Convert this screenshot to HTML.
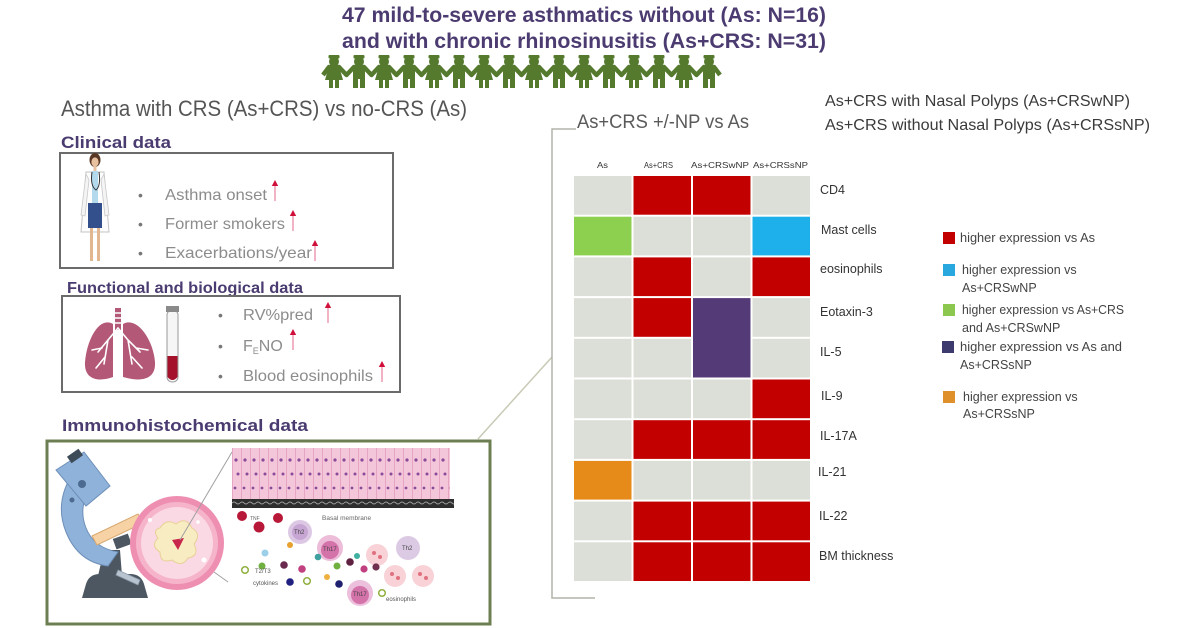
<!DOCTYPE html>
<html><head><meta charset="utf-8">
<style>
html,body{margin:0;padding:0;background:#fff;}
svg{display:block;}
text{font-family:"Liberation Sans",Arial,sans-serif;}
</style></head>
<body>
<svg width="1200" height="628" viewBox="0 0 1200 628" xmlns="http://www.w3.org/2000/svg">
<defs>
 <g id="fem" fill="#557a2e">
   <rect x="-5.5" y="0" width="11" height="3.5" rx="1"/>
   <circle cx="0" cy="6.5" r="5"/>
   <path d="M-5 11 L5 11 L9 25 L-9 25Z"/>
   <rect x="-5" y="24" width="4" height="9"/>
   <rect x="1" y="24" width="4" height="9"/>
 </g>
 <g id="mal" fill="#557a2e">
   <rect x="-5.5" y="0" width="11" height="3.5" rx="1"/>
   <circle cx="0" cy="6.5" r="5"/>
   <rect x="-6" y="11" width="12" height="13" rx="1.5"/>
   <rect x="-6" y="23" width="5" height="10"/>
   <rect x="1" y="23" width="5" height="10"/>
 </g>
 <g id="arr">
   <polygon points="0,0 -3.2,6 3.2,6" fill="#d0103a"/>
   <rect x="-1" y="6" width="2" height="15" fill="#f2b4c4"/>
 </g>
 <pattern id="epi" width="9" height="52" patternUnits="userSpaceOnUse" x="232" y="448">
   <rect width="9" height="52" fill="#f4c6da"/>
   <line x1="0.5" y1="0" x2="0.5" y2="52" stroke="#e6a6c3" stroke-width="1"/>
   <circle cx="4" cy="12" r="1.6" fill="#8a4a9a"/>
   <circle cx="6" cy="26" r="1.5" fill="#8a4a9a"/>
   <circle cx="3" cy="40" r="1.4" fill="#8a4a9a"/>
 </pattern>
 <pattern id="mem" width="8" height="9" patternUnits="userSpaceOnUse" x="232" y="499">
   <rect width="8" height="9" fill="#2e2e2e"/>
   <path d="M0 4 Q2 2 4 4 T8 4" stroke="#9a9a9a" stroke-width="1" fill="none"/>
 </pattern>
</defs>

<!-- Top title -->
<text x="342" y="22" font-size="21" font-weight="bold" fill="#4b3b70" textLength="484" lengthAdjust="spacingAndGlyphs">47 mild-to-severe asthmatics without (As: N=16)</text>
<text x="342" y="48" font-size="21" font-weight="bold" fill="#4b3b70" textLength="484" lengthAdjust="spacingAndGlyphs">and with chronic rhinosinusitis (As+CRS: N=31)</text>

<!-- People -->
<polyline fill="none" stroke="#557a2e" stroke-width="4.5" stroke-linejoin="round" points="323,75 329,67 339,67 346.5,75 354,67 364,67 371.5,75 379,67 389,67 396.5,75 404,67 414,67 421.5,75 429,67 439,67 446.5,75 454,67 464,67 471.5,75 479,67 489,67 496.5,75 504,67 514,67 521.5,75 529,67 539,67 546.5,75 554,67 564,67 571.5,75 579,67 589,67 596.5,75 604,67 614,67 621.5,75 629,67 639,67 646.5,75 654,67 664,67 671.5,75 679,67 689,67 696.5,75 704,67 714,67 720,75"/>
<use href="#fem" transform="translate(334,55)"/>
<use href="#mal" transform="translate(359,55)"/>
<use href="#fem" transform="translate(384,55)"/>
<use href="#mal" transform="translate(409,55)"/>
<use href="#fem" transform="translate(434,55)"/>
<use href="#mal" transform="translate(459,55)"/>
<use href="#fem" transform="translate(484,55)"/>
<use href="#mal" transform="translate(509,55)"/>
<use href="#fem" transform="translate(534,55)"/>
<use href="#mal" transform="translate(559,55)"/>
<use href="#fem" transform="translate(584,55)"/>
<use href="#mal" transform="translate(609,55)"/>
<use href="#fem" transform="translate(634,55)"/>
<use href="#mal" transform="translate(659,55)"/>
<use href="#fem" transform="translate(684,55)"/>
<use href="#mal" transform="translate(709,55)"/>

<!-- Left header -->
<text x="61" y="116" font-size="22" fill="#555" textLength="406" lengthAdjust="spacingAndGlyphs">Asthma with CRS (As+CRS) vs no-CRS (As)</text>
<text x="61" y="148" font-size="17" font-weight="bold" fill="#4a3b70" textLength="110" lengthAdjust="spacingAndGlyphs">Clinical data</text>

<!-- Clinical box -->
<rect x="60" y="153" width="333" height="115" fill="#fff" stroke="#6b6b6b" stroke-width="2"/>
<!-- Doctor -->
<g>
 <path d="M86 172 L104 172 L109 232 L81 232 Z" fill="#fdfdfd" stroke="#c4c4c4" stroke-width="1"/>
 <rect x="92" y="171" width="6" height="34" fill="#b2d9ec"/>
 <rect x="88" y="203" width="14" height="25" fill="#33508c"/>
 <rect x="90" y="228" width="3" height="33" fill="#e2b68e"/>
 <rect x="97" y="228" width="3" height="33" fill="#e2b68e"/>
 <path d="M86 174 L81 215 L85 216 L89 180Z" fill="#f4f4f4" stroke="#c8c8c8" stroke-width="0.8"/>
 <path d="M104 174 L109 215 L105 216 L101 180Z" fill="#f4f4f4" stroke="#c8c8c8" stroke-width="0.8"/>
 <ellipse cx="95" cy="160" rx="5.5" ry="7" fill="#5a3826"/>
 <ellipse cx="95" cy="162" rx="3.6" ry="4.6" fill="#e8c1a0"/>
 <rect x="93.5" y="166" width="3" height="5" fill="#e8c1a0"/>
 <path d="M92 172 Q90 186 96 190 Q101 186 99 172" fill="none" stroke="#333" stroke-width="1"/>
</g>
<text x="138" y="200" font-size="14" fill="#777">•</text>
<text x="138" y="229" font-size="14" fill="#777">•</text>
<text x="138" y="258" font-size="14" fill="#777">•</text>
<text x="165" y="200" font-size="16" fill="#8c8c8c" textLength="102" lengthAdjust="spacingAndGlyphs">Asthma onset</text>
<text x="165" y="229" font-size="16" fill="#8c8c8c" textLength="120" lengthAdjust="spacingAndGlyphs">Former smokers</text>
<text x="165" y="258" font-size="16" fill="#8c8c8c" textLength="147" lengthAdjust="spacingAndGlyphs">Exacerbations/year</text>
<use href="#arr" transform="translate(275,180)"/>
<use href="#arr" transform="translate(293,210)"/>
<use href="#arr" transform="translate(315,240)"/>

<!-- Functional -->
<text x="67" y="293" font-size="16" font-weight="bold" fill="#4a3b70" textLength="236" lengthAdjust="spacingAndGlyphs">Functional and biological data</text>
<rect x="62" y="296" width="338" height="96" fill="#fff" stroke="#6b6b6b" stroke-width="2"/>
<!-- Lungs -->
<g fill="#b35876">
 <rect x="115" y="308" width="6" height="22"/>
 <path d="M113 324 C100 316 87 338 85 362 C84 378 96 383 113 377 Z"/>
 <path d="M123 324 C136 316 153 338 155 362 C156 378 144 383 123 377 Z"/>
</g>
<g stroke="#fff" stroke-width="1.6" fill="none" stroke-linecap="round">
 <line x1="115" y1="313" x2="121" y2="313"/>
 <line x1="115" y1="318" x2="121" y2="318"/>
 <line x1="115" y1="323" x2="121" y2="323"/>
 <path d="M118 328 L108 340 L98 352 M108 340 L104 364 M102 348 L92 350 M105 357 L96 368"/>
 <path d="M118 328 L128 340 L140 352 M128 340 L132 364 M136 348 L148 350 M132 357 L142 368"/>
</g>
<!-- Tube -->
<rect x="167" y="310" width="11" height="72" rx="5" fill="#f6f6f6" stroke="#9a9a9a" stroke-width="1"/>
<rect x="166" y="306" width="13" height="6" fill="#8a8a8a"/>
<path d="M167.5 356 L177.5 356 L177.5 377 Q172.5 383 167.5 377 Z" fill="#a3112a"/>
<text x="218" y="320" font-size="14" fill="#777">•</text>
<text x="218" y="351" font-size="14" fill="#777">•</text>
<text x="218" y="381" font-size="14" fill="#777">•</text>
<text x="243" y="320" font-size="16" fill="#8c8c8c" textLength="70" lengthAdjust="spacingAndGlyphs">RV%pred</text>
<text x="243" y="351" font-size="16" fill="#8c8c8c">F<tspan font-size="9" dy="3">E</tspan><tspan dy="-3">NO</tspan></text>
<text x="243" y="381" font-size="16" fill="#8c8c8c" textLength="130" lengthAdjust="spacingAndGlyphs">Blood eosinophils</text>
<use href="#arr" transform="translate(328,302)"/>
<use href="#arr" transform="translate(293,329)"/>
<use href="#arr" transform="translate(382,361)"/>

<!-- Immunohistochemical -->
<text x="62" y="431" font-size="17" font-weight="bold" fill="#4a3b70" textLength="246" lengthAdjust="spacingAndGlyphs">Immunohistochemical  data</text>
<rect x="47" y="441" width="443" height="183" fill="#fff" stroke="#6d7f52" stroke-width="3"/>

<!-- Microscope -->
<g>
 <path d="M82 598 L86 584 Q89 574 100 574 L130 574 Q141 574 144 584 L148 598 Z" fill="#4d5761"/>
 <path d="M98 576 L104 550 L120 550 L122 576Z" fill="#4d5761"/>
 <path d="M70 478 Q55 505 66 532 Q78 562 108 566 L118 552 Q94 548 86 528 Q78 508 90 488 Z" fill="#8fb2da" stroke="#6e8fb8" stroke-width="1"/>
 <path d="M56 470 L84 452 L110 486 L86 506 Z" fill="#8fb2da" stroke="#6e8fb8" stroke-width="1"/>
 <rect x="68" y="452" width="14" height="8" transform="rotate(-35 75 456)" fill="#3d4a58"/>
 <circle cx="82" cy="484" r="4" fill="#4d6a90"/>
 <circle cx="72" cy="500" r="2.5" fill="#4d6a90"/>
 <path d="M92 536 L138 514 L143 523 L97 545 Z" fill="#f6d2a4" stroke="#d8a870" stroke-width="1"/>
 <rect x="114" y="536" width="16" height="11" fill="#4d5761" transform="rotate(-20 122 541)"/>
 <path d="M118 570 L140 580 L138 585 L116 575Z" fill="#b8c4d0" stroke="#8a98a8" stroke-width="0.8"/>
</g>
<!-- Circle -->
<circle cx="177" cy="543" r="47" fill="#ee8fb2"/>
<circle cx="177" cy="543" r="41" fill="#f5b4ca"/>
<circle cx="177" cy="543" r="36" fill="#fbd9e4"/>
<path d="M160 528 Q166 518 176 524 Q186 516 192 528 Q202 534 194 544 Q200 556 188 558 Q182 568 172 560 Q160 564 160 552 Q150 546 158 538 Q152 530 160 528 Z" fill="#f8ecc2" stroke="#e8d098" stroke-width="1"/>
<path d="M172 540 L184 538 L178 550 Z" fill="#c8264a"/>
<circle cx="150" cy="520" r="2" fill="#fff"/>
<circle cx="204" cy="560" r="2.5" fill="#fff"/>
<circle cx="198" cy="522" r="1.8" fill="#fff"/>
<line x1="180" y1="540" x2="232" y2="452" stroke="#a0a0a0" stroke-width="1"/>
<line x1="214" y1="572" x2="228" y2="582" stroke="#a0a0a0" stroke-width="1"/>

<!-- Epithelium -->
<rect x="232" y="448" width="218" height="52" fill="url(#epi)"/>
<rect x="232" y="499" width="222" height="9" fill="url(#mem)"/>
<text x="322" y="520" font-size="6.5" fill="#666">Basal membrane</text>

<!-- cells -->
<g>
 <circle cx="242" cy="516" r="5" fill="#b81838"/>
 <circle cx="259" cy="527" r="5.5" fill="#b81838"/>
 <circle cx="278" cy="518" r="5" fill="#b81838"/>
 <text x="250" y="520" font-size="5" fill="#666">TNF</text>
 <circle cx="300" cy="532" r="12" fill="#dcc8e4"/>
 <circle cx="300" cy="532" r="8" fill="#c8a6d4"/>
 <text x="294" y="534" font-size="6" fill="#444">Th2</text>
 <circle cx="290" cy="545" r="3" fill="#e8a030"/>
 <circle cx="330" cy="548" r="13" fill="#ecbcd8"/>
 <circle cx="330" cy="550" r="9" fill="#d472aa"/>
 <text x="323" y="551" font-size="6" fill="#444">Th17</text>
 <circle cx="408" cy="548" r="12" fill="#dccae4"/>
 <text x="402" y="550" font-size="6" fill="#444">Th2</text>
 <circle cx="360" cy="593" r="13" fill="#ecc0dc"/>
 <circle cx="360" cy="595" r="9" fill="#d472aa"/>
 <text x="353" y="596" font-size="6" fill="#444">Th17</text>
 <circle cx="377" cy="555" r="11" fill="#f8d2d6"/>
 <circle cx="395" cy="576" r="11" fill="#f8d2d6"/>
 <circle cx="423" cy="576" r="11" fill="#f8d2d6"/>
 <circle cx="374" cy="553" r="2" fill="#e07080"/><circle cx="380" cy="557" r="2" fill="#e07080"/>
 <circle cx="392" cy="574" r="2" fill="#e07080"/><circle cx="398" cy="578" r="2" fill="#e07080"/>
 <circle cx="420" cy="574" r="2" fill="#e07080"/><circle cx="426" cy="578" r="2" fill="#e07080"/>
 <circle cx="265" cy="553" r="3.5" fill="#9bd0e8"/>
 <circle cx="284" cy="565" r="3.8" fill="#6a2a50"/>
 <circle cx="302" cy="569" r="3.8" fill="#c04080"/>
 <circle cx="318" cy="557" r="3.3" fill="#40a0a0"/>
 <circle cx="262" cy="566" r="3.5" fill="#70b040"/>
 <circle cx="245" cy="570" r="3.3" fill="#fff" stroke="#90b040" stroke-width="1.5"/>
 <circle cx="290" cy="582" r="3.8" fill="#202080"/>
 <circle cx="307" cy="581" r="3.3" fill="#fff" stroke="#90b040" stroke-width="1.5"/>
 <circle cx="327" cy="577" r="3" fill="#f0b040"/>
 <circle cx="337" cy="566" r="3.5" fill="#70b040"/>
 <circle cx="339" cy="584" r="3.8" fill="#202070"/>
 <circle cx="350" cy="562" r="3.8" fill="#602040"/>
 <circle cx="364" cy="569" r="3.6" fill="#c04080"/>
 <circle cx="376" cy="567" r="3.6" fill="#703050"/>
 <circle cx="357" cy="556" r="3" fill="#40b0a0"/>
 <circle cx="382" cy="593" r="3.3" fill="#fff" stroke="#90b040" stroke-width="1.5"/>
 <text x="255" y="573" font-size="6" fill="#555">T2/T3</text>
 <text x="253" y="585" font-size="6" fill="#555">cytokines</text>
 <text x="386" y="601" font-size="6" fill="#555">eosinophils</text>
</g>

<!-- connecting line and bracket -->
<line x1="478" y1="439" x2="552" y2="357" stroke="#c9c9b6" stroke-width="1.5"/>
<polyline points="576,129 552,129 552,598 595,598" fill="none" stroke="#b4b4ac" stroke-width="1.5"/>

<!-- Heatmap title -->
<text x="577" y="128" font-size="19" fill="#5a5a5a" textLength="172" lengthAdjust="spacingAndGlyphs">As+CRS +/-NP vs As</text>

<!-- Column headers -->
<text x="597" y="168" font-size="8.5" fill="#333" textLength="11" lengthAdjust="spacingAndGlyphs">As</text>
<text x="644" y="168" font-size="8.5" fill="#333" textLength="29" lengthAdjust="spacingAndGlyphs">As+CRS</text>
<text x="691" y="168" font-size="8.5" fill="#333" textLength="58" lengthAdjust="spacingAndGlyphs">As+CRSwNP</text>
<text x="753" y="168" font-size="8.5" fill="#333" textLength="55" lengthAdjust="spacingAndGlyphs">As+CRSsNP</text>

<!-- Grid -->
<g>
 <rect x="574" y="176" width="57.5" height="38.7" fill="#dcdfd7"/>
 <rect x="633.5" y="176" width="57.5" height="38.7" fill="#c20000"/>
 <rect x="693" y="176" width="57.5" height="38.7" fill="#c20000"/>
 <rect x="752.5" y="176" width="57.5" height="38.7" fill="#dcdfd7"/>
 <rect x="574" y="216.7" width="57.5" height="38.7" fill="#8dcf4f"/>
 <rect x="633.5" y="216.7" width="57.5" height="38.7" fill="#dcdfd7"/>
 <rect x="693" y="216.7" width="57.5" height="38.7" fill="#dcdfd7"/>
 <rect x="752.5" y="216.7" width="57.5" height="38.7" fill="#1eb0ea"/>
 <rect x="574" y="257.4" width="57.5" height="38.7" fill="#dcdfd7"/>
 <rect x="633.5" y="257.4" width="57.5" height="38.7" fill="#c20000"/>
 <rect x="693" y="257.4" width="57.5" height="38.7" fill="#dcdfd7"/>
 <rect x="752.5" y="257.4" width="57.5" height="38.7" fill="#c20000"/>
 <rect x="574" y="298.1" width="57.5" height="38.7" fill="#dcdfd7"/>
 <rect x="633.5" y="298.1" width="57.5" height="38.7" fill="#c20000"/>
 <rect x="693" y="298.1" width="57.5" height="38.7" fill="#553a78"/>
 <rect x="752.5" y="298.1" width="57.5" height="38.7" fill="#dcdfd7"/>
 <rect x="574" y="338.8" width="57.5" height="38.7" fill="#dcdfd7"/>
 <rect x="633.5" y="338.8" width="57.5" height="38.7" fill="#dcdfd7"/>
 <rect x="693" y="336" width="57.5" height="41.5" fill="#553a78"/>
 <rect x="752.5" y="338.8" width="57.5" height="38.7" fill="#dcdfd7"/>
 <rect x="574" y="379.5" width="57.5" height="38.7" fill="#dcdfd7"/>
 <rect x="633.5" y="379.5" width="57.5" height="38.7" fill="#dcdfd7"/>
 <rect x="693" y="379.5" width="57.5" height="38.7" fill="#dcdfd7"/>
 <rect x="752.5" y="379.5" width="57.5" height="38.7" fill="#c20000"/>
 <rect x="574" y="420.2" width="57.5" height="38.7" fill="#dcdfd7"/>
 <rect x="633.5" y="420.2" width="57.5" height="38.7" fill="#c20000"/>
 <rect x="693" y="420.2" width="57.5" height="38.7" fill="#c20000"/>
 <rect x="752.5" y="420.2" width="57.5" height="38.7" fill="#c20000"/>
 <rect x="574" y="460.9" width="57.5" height="38.7" fill="#e68a1a"/>
 <rect x="633.5" y="460.9" width="57.5" height="38.7" fill="#dcdfd7"/>
 <rect x="693" y="460.9" width="57.5" height="38.7" fill="#dcdfd7"/>
 <rect x="752.5" y="460.9" width="57.5" height="38.7" fill="#dcdfd7"/>
 <rect x="574" y="501.6" width="57.5" height="38.7" fill="#dcdfd7"/>
 <rect x="633.5" y="501.6" width="57.5" height="38.7" fill="#c20000"/>
 <rect x="693" y="501.6" width="57.5" height="38.7" fill="#c20000"/>
 <rect x="752.5" y="501.6" width="57.5" height="38.7" fill="#c20000"/>
 <rect x="574" y="542.3" width="57.5" height="38.7" fill="#dcdfd7"/>
 <rect x="633.5" y="542.3" width="57.5" height="38.7" fill="#c20000"/>
 <rect x="693" y="542.3" width="57.5" height="38.7" fill="#c20000"/>
 <rect x="752.5" y="542.3" width="57.5" height="38.7" fill="#c20000"/>
</g>

<!-- Row labels -->
<g font-size="12.5" fill="#333">
 <text x="820" y="194">CD4</text>
 <text x="821" y="234">Mast cells</text>
 <text x="820" y="273">eosinophils</text>
 <text x="820" y="316">Eotaxin-3</text>
 <text x="820" y="356">IL-5</text>
 <text x="821" y="400">IL-9</text>
 <text x="820" y="440">IL-17A</text>
 <text x="818" y="476">IL-21</text>
 <text x="819" y="520">IL-22</text>
 <text x="819" y="560">BM thickness</text>
</g>

<!-- Right descriptions -->
<text x="825" y="106" font-size="16" fill="#3a3a3a" textLength="305" lengthAdjust="spacingAndGlyphs">As+CRS with Nasal Polyps (As+CRSwNP)</text>
<text x="825" y="130" font-size="16" fill="#3a3a3a" textLength="325" lengthAdjust="spacingAndGlyphs">As+CRS without Nasal Polyps (As+CRSsNP)</text>

<!-- Legend -->
<rect x="943" y="232" width="12" height="12" fill="#c20000"/>
<rect x="943" y="264" width="12" height="12" fill="#29a8e0"/>
<rect x="943" y="304" width="12" height="12" fill="#8cc850"/>
<rect x="942" y="341" width="12" height="12" fill="#3d3a6e"/>
<rect x="943" y="391" width="12" height="12" fill="#e0902a"/>
<g font-size="12.5" fill="#444">
 <text x="960" y="242" textLength="135" lengthAdjust="spacingAndGlyphs">higher expression vs As</text>
 <text x="962" y="274">higher expression vs</text>
 <text x="962" y="292">As+CRSwNP</text>
 <text x="962" y="314" textLength="162" lengthAdjust="spacingAndGlyphs">higher expression vs As+CRS</text>
 <text x="962" y="332">and As+CRSwNP</text>
 <text x="960" y="351" textLength="162" lengthAdjust="spacingAndGlyphs">higher expression vs As and</text>
 <text x="960" y="369">As+CRSsNP</text>
 <text x="963" y="401">higher expression vs</text>
 <text x="963" y="418">As+CRSsNP</text>
</g>
</svg>
</body></html>
